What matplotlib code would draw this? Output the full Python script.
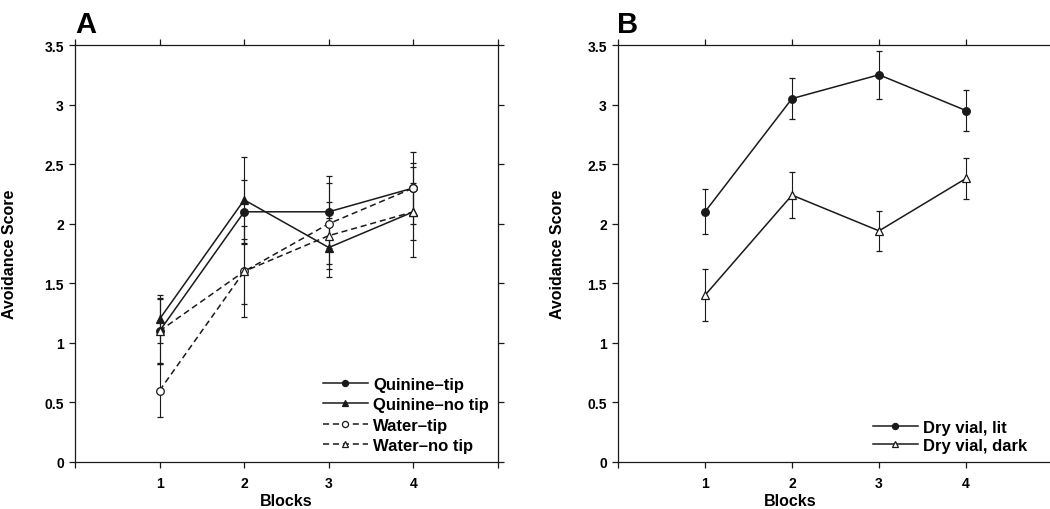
import matplotlib
matplotlib.use("Agg")
import matplotlib.pyplot as plt

plt.rcParams['font.family'] = ['Liberation Sans', 'DejaVu Sans']

blocks = [1, 2, 3, 4]

# Panel A
quinine_tip = [1.1, 2.1, 2.1, 2.3]
quinine_tip_err = [0.27, 0.27, 0.30, 0.30]
quinine_notip = [1.2, 2.2, 1.8, 2.1]
quinine_notip_err = [0.20, 0.36, 0.25, 0.24]
water_tip = [0.6, 1.6, 2.0, 2.3]
water_tip_err = [0.22, 0.38, 0.34, 0.21]
water_notip = [1.1, 1.6, 1.9, 2.1]
water_notip_err = [0.28, 0.27, 0.28, 0.38]
labels_a = ['Quinine\u2013tip', 'Quinine\u2013no tip', 'Water\u2013tip', 'Water\u2013no tip']

# Panel B
lit = [2.1, 3.05, 3.25, 2.95]
lit_err = [0.19, 0.17, 0.20, 0.17]
dark = [1.4, 2.24, 1.94, 2.38]
dark_err = [0.22, 0.19, 0.17, 0.17]
labels_b = ['Dry vial, lit', 'Dry vial, dark']

yticks = [0, 0.5, 1, 1.5, 2, 2.5, 3, 3.5]
ytick_labels = ['0', '0.5', '1', '1.5', '2', '2.5', '3', '3.5']
xticks = [0, 1, 2, 3, 4, 5]
xtick_labels = ['', '1', '2', '3', '4', '']

ink = '#1a1a1a'
W, H = 1050, 510
fig = plt.figure(figsize=(W / 100, H / 100), dpi=100)

axA = fig.add_axes([75 / W, 1 - 463 / H, 423 / W, 417 / H])
axB = fig.add_axes([618 / W, 1 - 463 / H, 435 / W, 417 / H])


def draw(ax, y, err, marker, face, ls):
    c = ax.errorbar(blocks, y, yerr=err, color=ink, lw=1.1, ls=ls,
                    marker=marker, ms=5.5, mfc=face, mec=ink, mew=0.9,
                    elinewidth=0.8, capsize=2.5, capthick=0.8)
    return c[0]


dash = (0, (4, 2.5))
hA = [
    draw(axA, quinine_tip, quinine_tip_err, 'o', ink, '-'),
    draw(axA, quinine_notip, quinine_notip_err, '^', ink, '-'),
    draw(axA, water_tip, water_tip_err, 'o', 'white', dash),
    draw(axA, water_notip, water_notip_err, '^', 'white', dash),
]
hB = [
    draw(axB, lit, lit_err, 'o', ink, '-'),
    draw(axB, dark, dark_err, '^', 'white', '-'),
]

for ax in (axA, axB):
    ax.set_xlim(0, 5)
    ax.set_ylim(0, 3.5)
    ax.set_xticks(xticks, xtick_labels)
    ax.set_yticks(yticks, ytick_labels)
    ax.tick_params(direction='out', length=4, width=0.9, color=ink,
                   top=True, right=True, labelsize=10, pad=4)
    ax.tick_params(axis='x', pad=6)
    for lab in ax.get_xticklabels() + ax.get_yticklabels():
        lab.set_fontweight('bold')
    for s in ax.spines.values():
        s.set_linewidth(0.9)
        s.set_color(ink)
    ax.set_xlabel('Blocks', fontsize=11.5, fontweight='bold', labelpad=3)
    ax.set_ylabel('Avoidance Score', fontsize=11.5, fontweight='bold')

axA.yaxis.set_label_coords(-0.137, 0.5)
axB.yaxis.set_label_coords(-0.122, 0.5)
axB.xaxis.set_label_coords(0.395, -0.075)
axA.xaxis.set_label_coords(0.5, -0.075)
axB.spines['right'].set_visible(False)

legA = axA.legend(hA, labels_a, loc='upper left', bbox_to_anchor=(0.586, 0.205),
                  frameon=False, fontsize=12, handlelength=2.7, handletextpad=0.3,
                  labelspacing=0.33, borderpad=0, borderaxespad=0, markerscale=0.8)
legB = axB.legend(hB, labels_b, loc='upper left', bbox_to_anchor=(0.586, 0.1),
                  frameon=False, fontsize=12, handlelength=2.7, handletextpad=0.3,
                  labelspacing=0.15, borderpad=0, borderaxespad=0, markerscale=0.8)
for leg in (legA, legB):
    for t in leg.get_texts():
        t.set_fontweight('bold')

fig.text(75 / W, 1 - 33 / H, 'A', fontsize=21, fontweight='bold', va='baseline')
fig.text(617 / W, 1 - 33 / H, 'B', fontsize=21, fontweight='bold', va='baseline')

fig.savefig('out.png', dpi=100)
